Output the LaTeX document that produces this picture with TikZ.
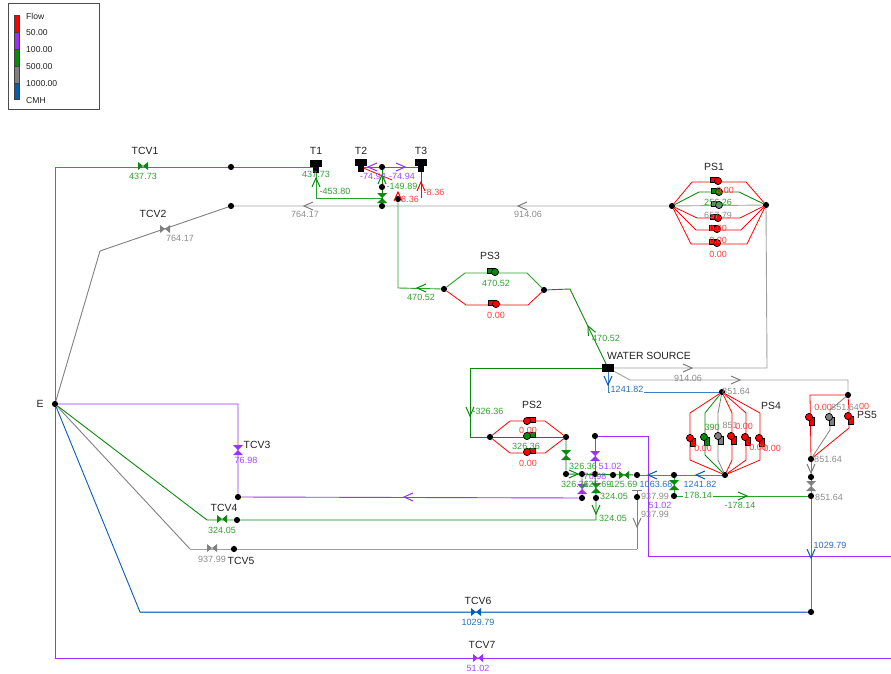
\documentclass[tikz,border=0pt]{standalone}
\usepackage{fontspec}
\setmainfont{Liberation Sans}
\usetikzlibrary{backgrounds}
\definecolor{cR}{HTML}{FF0000}
\definecolor{cP}{HTML}{9B30FF}
\definecolor{cG}{HTML}{0A8A0A}
\definecolor{cGl}{HTML}{28A428}
\definecolor{cA}{HTML}{808080}
\definecolor{cAl}{HTML}{A0A0A0}
\definecolor{cB}{HTML}{0A5CB0}
\definecolor{cBl}{HTML}{3F7FC8}
\definecolor{tR}{HTML}{FF4040}
\definecolor{tP}{HTML}{A548FF}
\definecolor{tG}{HTML}{33A033}
\definecolor{tA}{HTML}{8C8C8C}
\definecolor{tB}{HTML}{2A6FC0}
\definecolor{tK}{HTML}{222222}
\newcounter{lbn}
\newcommand\lab[4]{\stepcounter{lbn}\node[vlab,text=#1] (lab\thelbn) at (#2,#3) {#4};}
\newcommand\nam[3]{\stepcounter{lbn}\node[nlab] (lab\thelbn) at (#1,#2) {#3};}
\newcommand\vlv[3]{\fill[#3] (#1-5,#2-4)--(#1+5,#2+4)--(#1+5,#2-4)--(#1-5,#2+4)--cycle;}
\newcommand\vlvv[3]{\fill[#3] (#1-5,#2-5)--(#1+5,#2-5)--(#1-5,#2+5)--(#1+5,#2+5)--cycle;}
\newcommand\arw[4]{\begin{scope}[shift={(#1,#2)},rotate=#3]\draw[#4,line width=1pt] (-9,-4)--(0,0)--(-9,4);\end{scope}}
\newcommand\pumpL[3]{\draw[fill=#3,line width=.7pt] (#1-8,#2-3.5) rectangle (#1,#2+1.5);\draw[fill=#3,line width=.7pt] (#1,#2) circle (3.6);}
\newcommand\pumpR[3]{\draw[fill=#3,line width=.7pt] (#1+8,#2-3.5) rectangle (#1,#2+1.5);\draw[fill=#3,line width=.7pt] (#1,#2) circle (3.6);}
\newcommand\pumpD[3]{\draw[fill=#3,line width=.7pt] (#1,#2) rectangle (#1+5,#2+8);\draw[fill=#3,line width=.7pt] (#1,#2) circle (3.6);}
\newcommand\tank[2]{\fill[black] (#1-6,#2-6) rectangle (#1+6,#2+1); \fill[black] (#1-3,#2) rectangle (#1+3,#2+7);}
\tikzset{x=1pt,y=-1pt,
 jn/.style={circle,fill=black,inner sep=0pt,minimum size=6.2pt},
 pt/.style={inner sep=0pt,minimum size=0pt},
 vlab/.style={inner sep=0pt,font=\fontsize{9}{10}\selectfont},
 nlab/.style={inner sep=0pt,text=tK,font=\fontsize{10.4}{12}\selectfont},
 lgd/.style={inner sep=0pt,anchor=west,text=tK,font=\fontsize{8.6}{10}\selectfont},
 pipe/.style={line width=.9pt,line join=miter},
 thin pipe/.style={line width=.8pt}}
\begin{document}
\begin{tikzpicture}
\useasboundingbox (0,0) rectangle (891,674);
% legend
\node[draw=black!70,line width=.9pt,minimum width=91pt,minimum height=106pt,inner sep=0pt] (legend) at (53.5,56) {};
\fill[cR] (14,15) rectangle (19,32);
\fill[cP] (14,32) rectangle (19,49);
\fill[cG] (14,49) rectangle (19,66);
\fill[cA] (14,66) rectangle (19,83);
\fill[cB] (14,83) rectangle (19,99);
\draw[black!75,line width=.6pt] (14,15) rectangle (19,99);
\foreach \yy in {32,49,66,83} \draw[black!75,line width=.6pt] (14,\yy)--(19,\yy);
\node[lgd] (lg0) at (26,16) {Flow};
\node[lgd] (lg1) at (26,33) {50.00};
\node[lgd] (lg2) at (26,50) {100.00};
\node[lgd] (lg3) at (26,67) {500.00};
\node[lgd] (lg4) at (26,84) {1000.00};
\node[lgd] (lg5) at (26,101) {CMH};
% junctions
\foreach \n/\x/\y in {E/55/404, a1/231/167, a2/231/206, b1/382/167, b2/382/187, b3/382/206, b4/398/199,
 s1l/672/206, s1r/766/205, s3l/444/289, s3r/544/290, s2l/490/437, s2r/566/437,
 s4t/722/392, s4b/725/475, s5t/848/395, s5b/811/459, c1/811/477, c2/811/496, c3/811/612,
 d1/566/474, d2/582/474, d3/595/474, d4/613/475, d5/637/475, d6/674/475, d7/674/496,
 e1/595/436, e2/582/498, e3/596/498, e4/637/497, f1/238/497, f2/237/520, f3/234/549}
 {\node[jn] (\n) at (\x,\y) {};}
\foreach \n/\x/\y in {T1/316/172, T2/361/167, T3/421/172, WS/608/368, TW/382/198}
 {\node[pt] (\n) at (\x,\y) {};}
\begin{pgfonlayer}{background}
\fill[white] (0,0) rectangle (891,674);
% green
\draw[cGl,pipe] (E.center)--(55,167)--(a1)--(316,167)--(T1);
\draw[cGl,pipe] (T1)--(316,198)--(TW)--(b3);
\draw[cG,pipe] (b1)--(b3);
\draw[cGl,pipe] (b4)--(398,288)--(s3l);
\draw[cGl,pipe] (s3l)--(465,273)--(527,273)--(s3r);
\draw[cG,pipe] (s3r)--(570,289)--(WS);
\draw[cG,pipe] (WS)--(470,368)--(470,437)--(s2l);
\draw[cG,pipe] (s2l)--(s2r);
\draw[cG,pipe] (s2r)--(d1)--(d5);
\draw[cG,pipe] (d3)--(e3)--(596,520)--(f2)--(207,520)--(E);
\draw[cG,pipe] (s1l)--(699,192)--(739,192)--(s1r);
\draw[cG,thin pipe] (s4t)--(705,413)--(705,455)--(s4b);
\draw[cGl,pipe] (d6)--(d7)--(c2);
% purple
\draw[cP,pipe] (E)--(238,404)--(f1)--(e2)--(d2);
\draw[cP,pipe] (d3)--(e1)--(648,436)--(648,556)--(891,556);
\draw[cP,pipe] (E.center)--(55,658)--(891,658);
\draw[cP,pipe] (T2)--(T3|-T2);
% gray
\draw[cA,pipe] (E)--(100,251)--(a2);
\draw[cAl,pipe] (a2)--(s1l)--(s1r);
\draw[cAl,pipe] (s1r)--(767,368)--(WS);
\draw[cAl,pipe] (WS)--(630,380)--(848,380)--(s5t);
\draw[cA,pipe] (632,490)--(642,490);
\draw[cA,pipe] (637,490)--(e4)--(637,549);
\draw[cAl,pipe] (637,549)--(f3)--(190,549);
\draw[cA,pipe] (190,549)--(E);
\draw[cA,pipe] (s5b)--(c1)--(c2);
\draw[cA,thin pipe] (s4t)--(718,413)--(718,460)--(s4b);
\draw[cA,thin pipe] (s5t)--(830,410)--(830,430)--(s5b);
% blue
\draw[cBl,pipe] (WS)--(608,392)--(s4t);
\draw[cBl,pipe] (s4b)--(d5);
\draw[cB,pipe] (E)--(140,612)--(c3);
\draw[cBl,pipe] (140,612)--(c3)--(c2);
% red
\draw[cR,thin pipe] (s3l)--(466,305)--(528,305)--(s3r);
\draw[cR,thin pipe] (s2l)--(510,421)--(545,421)--(s2r);
\draw[cR,thin pipe] (s2l)--(510,453)--(545,453)--(s2r);
\draw[cR,thin pipe] (s1l)--(692,182)--(746,182)--(s1r);
\draw[cR,thin pipe] (s1l)--(697,218)--(740,218)--(s1r);
\draw[cR,thin pipe] (s1l)--(696,230)--(741,230)--(s1r);
\draw[cR,thin pipe] (s1l)--(691,244)--(747,244)--(s1r);
\draw[cR,thin pipe] (s4t)--(690,413)--(690,460)--(s4b);
\draw[cR,thin pipe] (s4t)--(732,413)--(732,460)--(s4b);
\draw[cR,thin pipe] (s4t)--(746,413)--(746,460)--(s4b);
\draw[cR,thin pipe] (s4t)--(760,413)--(760,460)--(s4b);
\draw[cR,thin pipe] (s5t)--(810,395)--(s5b);
\draw[cR,thin pipe] (s5t)--(849,410)--(849,428)--(s5b);
\draw[cR,thin pipe] (T3)--(421,198);
\draw[cR,thin pipe] (T2)--(392,180);
\end{pgfonlayer}
% tanks
\tank{316}{166}\tank{361}{165}\tank{421}{165}
\fill[black] (602,364) rectangle (614,372);
% valves
\vlv{143}{166}{cG}
\vlv{165}{229}{cA}
\vlvv{238}{450}{cP}
\vlv{222}{519}{cG}
\vlv{212}{548}{cA}
\vlv{476}{612}{cB}
\vlv{478}{658}{cP}
\vlvv{382}{198}{cG}
\vlvv{566}{455}{cG}
\vlvv{595}{456}{cP}
\vlvv{582}{489}{cP}
\vlvv{596}{488}{cG}
\vlv{624}{475}{cG}
\vlvv{674}{485}{cG}
\vlvv{811}{486}{cA}
% arrows
\arw{304}{206}{180}{cA}
\arw{518}{206}{180}{cA}
\arw{316}{178}{90}{cG}
\arw{382}{175}{90}{cG}
\arw{368}{167}{180}{cP}
\arw{405}{167}{0}{cP}
\arw{421}{182}{90}{cR}
\arw{398}{192}{90}{cR}
\arw{417}{288}{180}{cG}
\arw{588}{326}{116}{cG}
\arw{608}{385}{270}{cB}
\arw{470}{416}{270}{cG}
\arw{692}{368}{0}{cA}
\arw{740}{380}{0}{cA}
\arw{578}{474}{0}{cG}
\arw{596}{514}{270}{cG}
\arw{637}{527}{270}{cA}
\arw{648}{475}{180}{cB}
\arw{696}{475}{180}{cB}
\arw{747}{496}{0}{cG}
\arw{404}{497}{180}{cP}
\arw{811}{558}{270}{cB}
\arw{811}{473}{270}{cA}
% pumps
\pumpL{718}{181}{cR}\pumpL{719}{192}{cG}\pumpL{719}{205}{cA}\pumpL{718}{218}{cR}\pumpL{717}{229}{cR}\pumpL{717}{243}{cR}
\pumpL{495}{272}{cG}\pumpL{496}{304}{cR}
\pumpR{527}{421}{cR}\pumpR{527}{436}{cG}\pumpR{527}{452}{cR}
\pumpD{690}{438}{cR}\pumpD{704}{437}{cG}\pumpD{718}{436}{cA}\pumpD{731}{436}{cR}\pumpD{745}{437}{cR}\pumpD{759}{438}{cR}
\pumpD{809}{417}{cR}\pumpD{829}{417}{cA}\pumpD{848}{416}{cR}
% names
\nam{145}{151}{TCV1}\nam{153}{214}{TCV2}\nam{257}{445}{TCV3}\nam{224}{508}{TCV4}\nam{241}{561}{TCV5}
\nam{478}{601}{TCV6}\nam{482}{645}{TCV7}
\nam{316}{151}{T1}\nam{361}{151}{T2}\nam{421}{151}{T3}
\nam{714}{167}{PS1}\nam{490}{256}{PS3}\nam{532}{405}{PS2}\nam{771}{406}{PS4}\nam{867}{415}{PS5}
\nam{649}{356}{WATER SOURCE}\nam{40}{404}{E}
% values
\lab{tG}{143}{176}{437.73}
\lab{tA}{180}{238}{764.17}
\lab{tP}{246}{460}{76.98}
\lab{tG}{222}{530}{324.05}
\lab{tA}{212}{559}{937.99}
\lab{tB}{478}{622}{1029.79}
\lab{tP}{478}{668}{51.02}
\lab{tG}{316}{174}{437.73}
\lab{tG}{335}{191}{-453.80}
\lab{tP}{373}{176}{-74.94}
\lab{tP}{402}{176}{-74.94}
\lab{tG}{402}{186}{-149.89}
\lab{tR}{410}{199}{8.36}
\lab{tR}{434}{192}{-8.36}
\lab{tA}{305}{214}{764.17}
\lab{tA}{528}{214}{914.06}
\lab{tR}{725}{190}{0.00}
\lab{tG}{718}{202}{256.26}
\lab{tA}{718}{215}{657.79}
\lab{tR}{718}{228}{0.00}
\lab{tR}{718}{240}{0.00}
\lab{tR}{718}{254}{0.00}
\lab{tG}{421}{297}{470.52}
\lab{tG}{496}{283}{470.52}
\lab{tR}{496}{315}{0.00}
\lab{tG}{606}{338}{470.52}
\node[vlab,text=tB,fill=white,inner xsep=1pt,inner ysep=2.5pt] (laby) at (627,389) {1241.82};
\lab{tA}{688}{378}{914.06}
\lab{tG}{488}{411}{-326.36}
\lab{tR}{528}{430}{0.00}
\lab{tG}{526}{446}{326.36}
\lab{tR}{528}{463}{0.00}
\lab{tG}{583}{466}{326.36}
\lab{tP}{610}{466}{51.02}
\lab{tP}{595}{476}{76.98}
\lab{tG}{575}{484}{326.36}
\lab{tG}{596}{484}{-125.69}
\lab{tG}{622}{484}{-125.69}
\lab{tG}{614}{496}{324.05}
\lab{tG}{613}{518}{324.05}
\lab{tB}{656}{484}{1063.68}
\lab{tA}{655}{496}{937.99}
\lab{tP}{660}{505}{51.02}
\lab{tA}{655}{514}{937.99}
\lab{tB}{700}{484}{1241.82}
\node[vlab,text=tG,fill=white,inner xsep=1pt] (labx) at (698,495) {178.14};
\lab{tG}{740}{505}{-178.14}
\lab{tA}{736}{391}{851.64}
\lab{tG}{712}{427}{390}
\lab{tA}{730}{425}{851}
\lab{tR}{744}{426}{0.00}
\lab{tR}{703}{448}{0.00}
\lab{tR}{758}{447}{0.00}
\lab{tR}{772}{448}{0.00}
\lab{tR}{823}{407}{0.00}
\lab{tA}{845}{407}{851.64}
\lab{tR}{864}{406}{00}
\lab{tA}{828}{459}{851.64}
\lab{tA}{829}{497}{851.64}
\lab{tB}{830}{545}{1029.79}
\end{tikzpicture}
\end{document}
